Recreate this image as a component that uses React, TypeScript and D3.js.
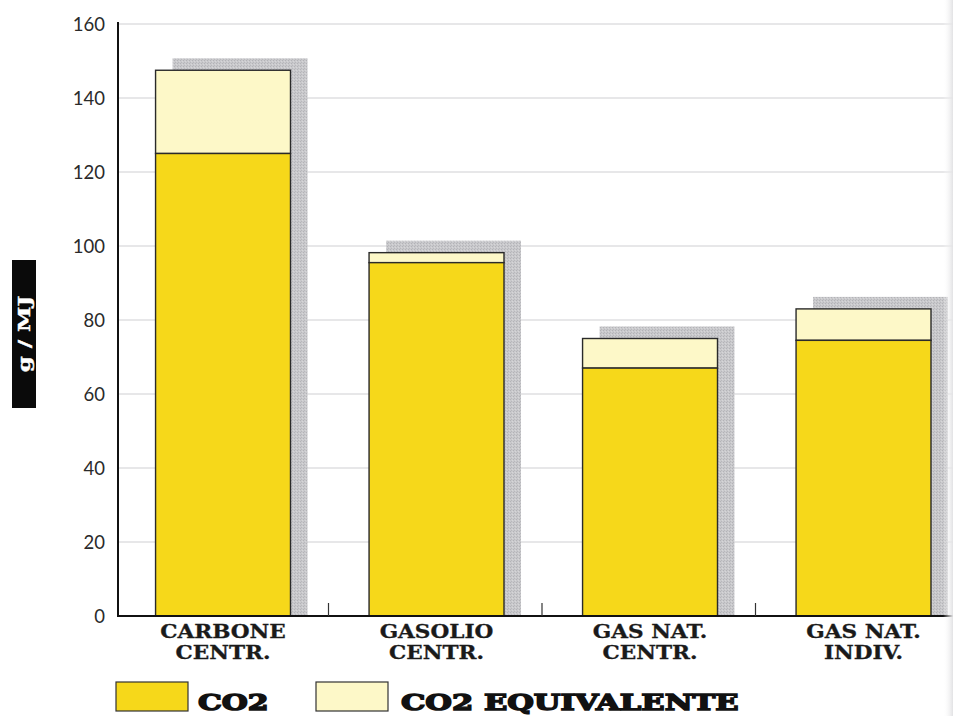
import React from "react";
import * as d3 from "d3";

// Emission factors per heating system (g/MJ)
const categories = ["CARBONE CENTR.", "GASOLIO CENTR.", "GAS NAT. CENTR.", "GAS NAT. INDIV."];
const categoryLines = [
  ["CARBONE", "CENTR."],
  ["GASOLIO", "CENTR."],
  ["GAS NAT.", "CENTR."],
  ["GAS NAT.", "INDIV."],
];
const co2Values = [125, 95.5, 67, 74.5];
const co2EqValues = [22.5, 2.7, 8, 8.5];
const yTicks = [0, 20, 40, 60, 80, 100, 120, 140, 160];
const seriesNames = ["CO2", "CO2 EQUIVALENTE"];

const W = 953;
const H = 716;
const axisX = 118;
const baseY = 616;
const topY = 24;

const YELLOW = "#f6d81a";
const PALE = "#fdf8c8";

const serif = "'DejaVu Serif', serif";

export default function App() {
  const y = d3.scaleLinear().domain([0, 160]).range([baseY, topY]);
  const x = d3.scaleBand<string>().domain(categories).range([115, 969]).padding(0);
  const bw = x.bandwidth();
  const barOff = bw * 0.19;
  const barW = bw * 0.632;
  const shadowDx = 17;
  const shadowDy = 12;

  const stacked = categories.map((c, i) => ({
    cat: c,
    co2: co2Values[i],
    total: co2Values[i] + co2EqValues[i],
  }));

  return (
    <svg
      width={W}
      height={H}
      style={{ position: "absolute", left: 0, top: 0, background: "#fff" }}
    >
      <defs>
        <pattern id="halftone" width="3" height="3" patternUnits="userSpaceOnUse">
          <rect width="3" height="3" fill="#c9c9cc" />
          <rect x="0" y="0" width="1" height="1" fill="#b3b3b7" />
          <rect x="2" y="1" width="1" height="1" fill="#d6d6d8" />
          <rect x="1" y="2" width="1" height="1" fill="#b8b8bc" />
        </pattern>
        <linearGradient id="edge" x1="0" x2="1" y1="0" y2="0">
          <stop offset="0" stopColor="#ffffff" stopOpacity="0" />
          <stop offset="1" stopColor="#e2e2e4" stopOpacity="1" />
        </linearGradient>
      </defs>

      {/* horizontal gridlines */}
      {yTicks.slice(1).map((t) => (
        <line
          key={"g" + t}
          x1={axisX}
          x2={W}
          y1={y(t)}
          y2={y(t)}
          stroke="#cfcfd2"
          strokeWidth={1}
        />
      ))}

      {/* drop shadows */}
      {stacked.map((d) => {
        const x0 = (x(d.cat) as number) + barOff;
        return (
          <rect
            key={"s" + d.cat}
            x={x0 + shadowDx}
            y={y(d.total) - shadowDy}
            width={barW}
            height={baseY - (y(d.total) - shadowDy)}
            fill="url(#halftone)"
          />
        );
      })}

      {/* stacked bars */}
      {stacked.map((d) => {
        const x0 = (x(d.cat) as number) + barOff;
        return (
          <g key={"b" + d.cat}>
            <rect
              x={x0}
              y={y(d.total)}
              width={barW}
              height={y(d.co2) - y(d.total)}
              fill={PALE}
              stroke="#2a2a2a"
              strokeWidth={1.4}
            />
            <rect
              x={x0}
              y={y(d.co2)}
              width={barW}
              height={baseY - y(d.co2)}
              fill={YELLOW}
              stroke="#2a2a2a"
              strokeWidth={1.4}
            />
          </g>
        );
      })}

      {/* axes */}
      <line x1={axisX} x2={axisX} y1={topY - 2} y2={baseY} stroke="#111" strokeWidth={2} />
      <line x1={axisX - 1} x2={W} y1={baseY} y2={baseY} stroke="#111" strokeWidth={2} />
      {categories.slice(1).map((c) => (
        <line
          key={"t" + c}
          x1={x(c) as number}
          x2={x(c) as number}
          y1={baseY}
          y2={baseY - 13}
          stroke="#333"
          strokeWidth={1.2}
        />
      ))}

      {/* y tick labels */}
      {yTicks.map((t) => (
        <text
          key={"yl" + t}
          x={105}
          y={y(t) + 6.5}
          textAnchor="end"
          fontFamily="Lato, 'Open Sans', sans-serif"
          fontSize={18.5}
          fill="#2a2a2a"
        >
          {t}
        </text>
      ))}

      {/* y axis title */}
      <rect x={12} y={260} width={24} height={148} fill="#0a0a0a" />
      <g transform="translate(30,334) rotate(-90) scale(1.35,1)">
        <text
          textAnchor="middle"
          fontFamily={serif}
          fontWeight="bold"
          fontSize={17}
          fill="#fff"
          stroke="#fff"
          strokeWidth={0.4}
        >
          g / MJ
        </text>
      </g>

      {/* category labels */}
      {categoryLines.map((lines, i) => {
        const cx = (x(categories[i]) as number) + barOff + barW / 2;
        return (
          <g key={"cl" + i}>
            {lines.map((ln, j) => (
              <g key={j} transform={`translate(${cx},${638 + j * 21}) scale(1.2,1)`}>
                <text
                  textAnchor="middle"
                  fontFamily={serif}
                  fontWeight="bold"
                  fontSize={18}
                  fill="#1a1a1a"
                  stroke="#1a1a1a"
                  strokeWidth={0.3}
                >
                  {ln}
                </text>
              </g>
            ))}
          </g>
        );
      })}

      {/* legend */}
      <rect x={116} y={682} width={72} height={29} fill={YELLOW} stroke="#333" strokeWidth={1.2} />
      <g transform="translate(198,710) scale(1.3,1)">
        <text
          fontFamily={serif}
          fontWeight="900"
          fontSize={23}
          fill="#111"
          stroke="#111"
          strokeWidth={1.5}
        >
          {seriesNames[0]}
        </text>
      </g>
      <rect x={316} y={682} width={72} height={29} fill={PALE} stroke="#333" strokeWidth={1.2} />
      <g transform="translate(401,710) scale(1.33,1)">
        <text
          fontFamily={serif}
          fontWeight="900"
          fontSize={23}
          fill="#111"
          stroke="#111"
          strokeWidth={1.5}
        >
          {seriesNames[1]}
        </text>
      </g>

      {/* page edge */}
      <rect x={943} y={0} width={10} height={H} fill="url(#edge)" />
    </svg>
  );
}
